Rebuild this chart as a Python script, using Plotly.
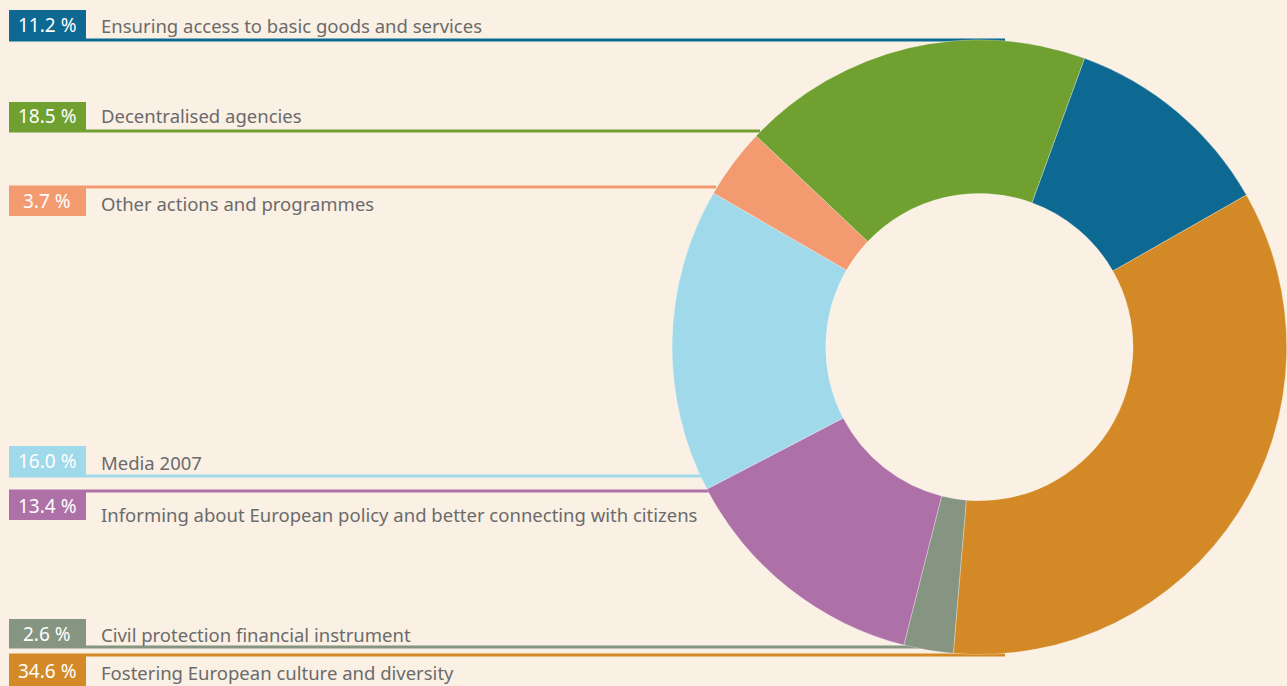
import plotly.graph_objects as go

# -------------------------------------------------
# Data
# -------------------------------------------------
labels = [
    "Ensuring access to basic goods and services",
    "Fostering European culture and diversity",
    "Civil protection financial instrument",
    "Informing about European policy and better connecting with citizens",
    "Media 2007",
    "Other actions and programmes",
    "Decentralised agencies",
]
shares = [11.2, 34.6, 2.6, 13.4, 16.0, 3.7, 18.5]
colors = ["#0d6892", "#d38926", "#869482", "#ad71a8", "#a0d9ea", "#f49a70", "#6fa030"]

BG = "#faf0e4"
TEXT_GREY = "#6b6b6b"
W, H = 1287, 686

# legend rows on the left: box top/bottom, rule y, rule end x, label y (pixels)
rows = {
    "Ensuring access to basic goods and services": dict(box=(10, 40), rule=40, end=1005, ty=25),
    "Decentralised agencies": dict(box=(102, 131), rule=131, end=760, ty=116),
    "Other actions and programmes": dict(box=(187, 216), rule=187, end=716, ty=203),
    "Media 2007": dict(box=(446, 477), rule=476, end=712, ty=462),
    "Informing about European policy and better connecting with citizens": dict(box=(491, 520), rule=491, end=712, ty=514),
    "Civil protection financial instrument": dict(box=(619, 648), rule=647, end=960, ty=634),
    "Fostering European culture and diversity": dict(box=(655, 686), rule=655, end=1005, ty=672),
}


def px(x):
    return x / W


def py(y):
    return 1 - y / H


fig = go.Figure()

fig.add_trace(
    go.Pie(
        labels=labels,
        values=shares,
        hole=0.5,
        sort=False,
        direction="clockwise",
        rotation=20,
        textinfo="none",
        marker=dict(colors=colors, line=dict(color="rgba(255,255,255,0.35)", width=0.8)),
        domain=dict(x=[0.522, 1.0], y=[0.046, 0.942]),
        showlegend=False,
    )
)

shapes = []
annotations = []
for lab, val, col in zip(labels, shares, colors):
    r = rows[lab]
    y0, y1 = r["box"]
    # leader rule
    shapes.append(
        dict(
            type="line", xref="paper", yref="paper", layer="below",
            x0=px(9), x1=px(r["end"]), y0=py(r["rule"]), y1=py(r["rule"]),
            line=dict(color=col, width=3),
        )
    )
    # coloured box
    shapes.append(
        dict(
            type="rect", xref="paper", yref="paper", layer="below",
            x0=px(9), x1=px(86), y0=py(y1), y1=py(y0),
            fillcolor=col, line=dict(width=0),
        )
    )
    annotations.append(
        dict(
            x=px(47), y=py((y0 + y1) / 2), xref="paper", yref="paper",
            text=f"{val:.1f} %", showarrow=False, xanchor="center", yanchor="middle",
            font=dict(family="Noto Sans", size=19, color="white"),
        )
    )
    annotations.append(
        dict(
            x=px(99), y=py(r["ty"]), xref="paper", yref="paper",
            text=lab, showarrow=False, xanchor="left", yanchor="middle",
            font=dict(family="Noto Sans", size=18.5, color=TEXT_GREY),
        )
    )

fig.update_layout(
    width=W,
    height=H,
    margin=dict(l=0, r=0, t=0, b=0),
    paper_bgcolor=BG,
    plot_bgcolor=BG,
    shapes=shapes,
    annotations=annotations,
)

fig.write_html(
    "out.html",
    config={"displayModeBar": False},
    post_script="document.body.style.margin='0';document.body.style.background='%s';" % BG,
)
